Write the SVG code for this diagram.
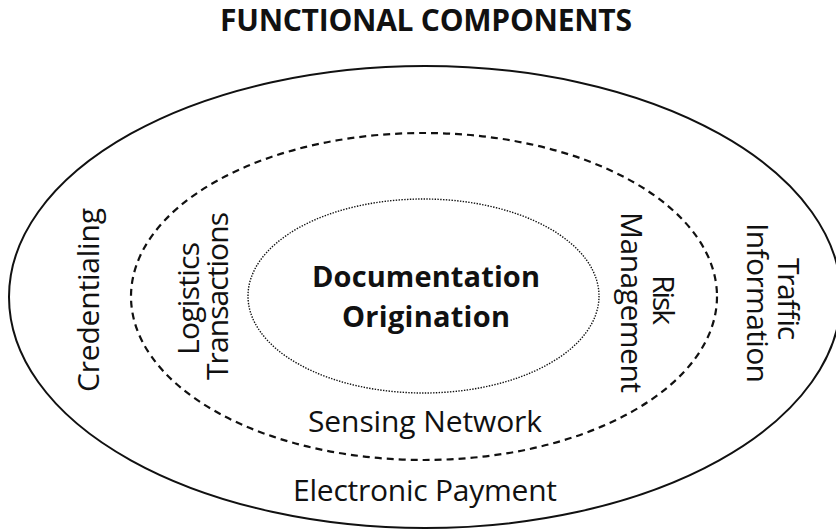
<svg xmlns="http://www.w3.org/2000/svg" width="836" height="529" viewBox="0 0 836 529">
<style>
  .lbl { font-family: "Open Sans", "Noto Sans", "Liberation Sans", sans-serif; font-size: 30px; fill: #111; text-anchor: middle; }
  .bold { font-weight: bold; }
  .ring { fill: none; stroke: #111; }
</style>
<rect width="836" height="529" fill="#fff"/>
<text class="lbl bold" x="426" y="31" textLength="412">FUNCTIONAL COMPONENTS</text>
<g id="outer">
  <ellipse class="ring" cx="425" cy="297" rx="416" ry="231" stroke-width="2"/>
  <text class="lbl" transform="translate(99,300) rotate(-90)" textLength="184">Credentialing</text>
  <text class="lbl" transform="translate(778,299) rotate(90)" textLength="82">Traffic</text>
  <text class="lbl" transform="translate(747,303) rotate(90)" textLength="160">Information</text>
  <text class="lbl" x="425" y="501" textLength="264">Electronic Payment</text>
</g>
<g id="middle">
  <ellipse class="ring" cx="424" cy="296.5" rx="293" ry="163.5" stroke-width="2.2" stroke-dasharray="7 5"/>
  <text class="lbl" transform="translate(199,298.5) rotate(-90)" textLength="113">Logistics</text>
  <text class="lbl" transform="translate(228,296) rotate(-90)" textLength="168">Transactions</text>
  <text class="lbl" transform="translate(653,300) rotate(90)" textLength="50">Risk</text>
  <text class="lbl" transform="translate(621,302.5) rotate(90)" textLength="181">Management</text>
  <text class="lbl" x="425" y="432" textLength="234">Sensing Network</text>
</g>
<g id="inner">
  <ellipse class="ring" cx="423.5" cy="296" rx="175.5" ry="97" stroke-width="1.4" stroke-dasharray="1.4 1.4"/>
  <text class="lbl bold" x="426" y="287" font-size="29" style="font-size:29px" textLength="228">Documentation</text>
  <text class="lbl bold" x="426" y="327" style="font-size:29px" textLength="168">Origination</text>
</g>
<g id="connectors"></g>
</svg>
